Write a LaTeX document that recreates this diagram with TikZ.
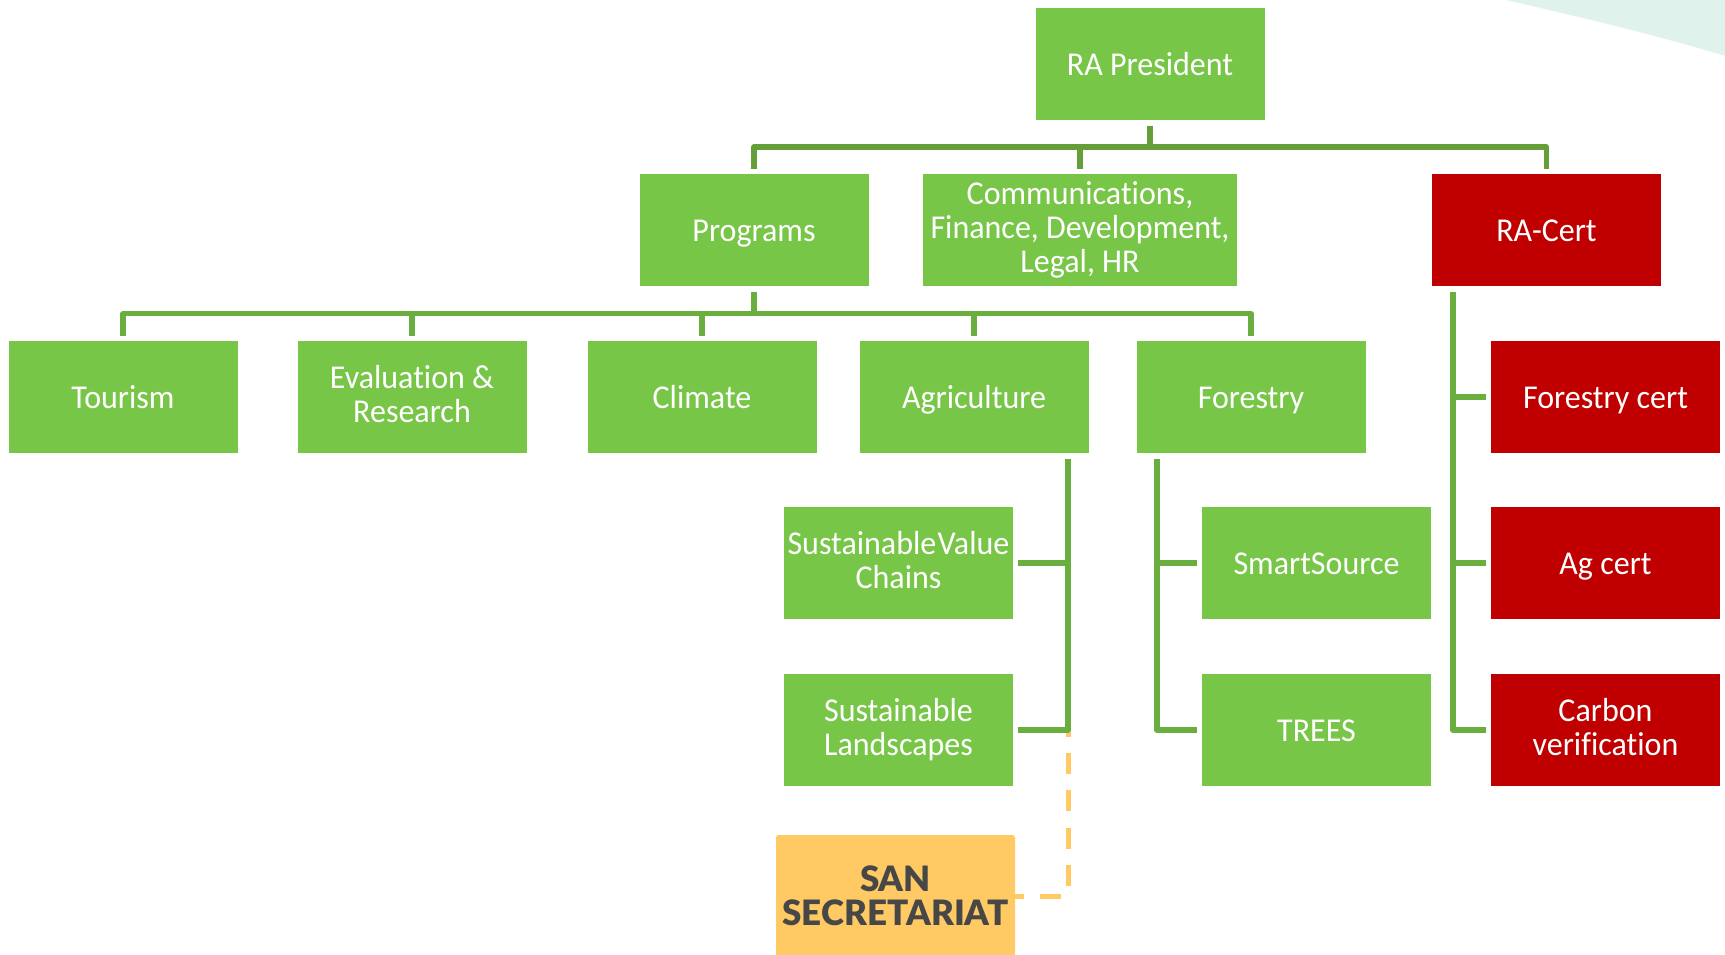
\documentclass[tikz,border=0pt]{standalone}
\usepackage{fontspec}
\setmainfont{Carlito}[Ligatures=NoCommon,WordSpace=1.0,FakeStretch=0.96]
\newfontfamily\boldface{Lato Black}
\definecolor{boxgreen}{HTML}{78C648}
\definecolor{boxred}{HTML}{C00000}
\definecolor{boxgold}{HTML}{FFCA64}
\definecolor{darkbar}{HTML}{649F3A}
\definecolor{midbar}{HTML}{6BAE40}
\definecolor{inkgrey}{HTML}{474747}
\definecolor{paleteal}{HTML}{DFF2EC}
\newcommand{\linefix}{\rule[-0.17\baselineskip]{0pt}{\baselineskip}}
\tikzset{
  x=0.75pt,y=-0.75pt,
  basebox/.style={inner sep=0pt,minimum height=112*0.75pt,align=center,text=white,
    font=\fontsize{25}{25.2}\selectfont,
    execute at begin node=\linefix,execute at end node=\linefix},
  gbox/.style={basebox,fill=boxgreen,minimum width=229*0.75pt},
  rbox/.style={basebox,fill=boxred,minimum width=229*0.75pt},
  topbar/.style={draw=darkbar,line width=4pt,shorten <=4.5pt,shorten >=3.75pt,line join=round},
  bar/.style={draw=midbar,line width=3.9pt,shorten <=4.5pt,shorten >=3.75pt,line join=round},
  sidebar/.style={draw=midbar,line width=3.9pt,shorten <=4.5pt,shorten >=3.75pt,line join=round},
}
\begin{document}
\begin{tikzpicture}
\useasboundingbox (0,0) rectangle (1725,955);
\clip (0,0) rectangle (1725,955);
\fill[paleteal] (1506,0) .. controls (1580,17) and (1660,36) .. (1725,56) -- (1725,0) -- cycle;

\node[gbox] (pres) at (1150,64) {RA President};
\node[gbox] (prog) at (754,230) {Programs};
\node[gbox,minimum width=314*0.75pt] (comm) at (1080,230) {Communications,\\Finance, Development,\\Legal, HR};
\node[rbox] (cert) at (1546.5,230) {RA-Cert};

\node[gbox] (tour) at (123,397) {Tourism};
\node[gbox] (eval) at (412,397) {Evaluation \&\\Research};
\node[gbox] (clim) at (702,397) {Climate};
\node[gbox] (agri) at (974,397) {Agriculture};
\node[gbox] (fore) at (1251,397) {Forestry};
\node[rbox] (fcert) at (1605.5,397) {Forestry cert};

\node[gbox] (svc) at (898.5,563) {Sustainable\kern-4.5pt{} Value\\Chains};
\node[gbox] (smart) at (1316.5,563) {SmartSource};
\node[rbox] (acert) at (1605.5,563) {Ag cert};

\node[gbox] (land) at (898.5,730) {Sustainable\\Landscapes};
\node[gbox] (trees) at (1316.5,730) {TREES};
\node[rbox] (carbon) at (1605.5,730) {Carbon\\verification};

\node[fill=boxgold,rounded corners=2pt,minimum width=239*0.75pt,minimum height=122*0.75pt,inner sep=0pt,align=center,
  text=inkgrey,font=\boldface\fontsize{26.2}{25.2}\selectfont] (san) at (895.5,896) {SAN\\SECRETARIAT};

\coordinate (topbus) at (0,147);
\coordinate (progbus) at (0,313.5);
\coordinate (agrix) at (1068,0);
\coordinate (forex) at (1157,0);
\coordinate (certx) at (1453,0);
\coordinate (corner) at (1068,896);

% dashed link, under the green tree
\draw[draw=boxgold,line width=3.75pt,dash pattern=on 15.75pt off 12.3pt,dash phase=9.2pt]
  (san.east |- corner) -- (corner) -- (agrix |- land.east);

% president tree
\foreach \child in {prog,comm,cert}
  \draw[topbar] (pres.south) -- (pres.south |- topbus) -| (\child.north);
% programs tree
\foreach \child in {tour,eval,clim,agri,fore}
  \draw[bar] (prog.south) -- (prog.south |- progbus) -| (\child.north);
% agriculture tree
\foreach \child in {svc,land}
  \draw[sidebar] (agrix |- agri.south) -- (agrix |- \child.east) -- (\child.east);
% forestry tree
\foreach \child in {smart,trees}
  \draw[sidebar] (forex |- fore.south) -- (forex |- \child.west) -- (\child.west);
% certification tree
\foreach \child in {fcert,acert,carbon}
  \draw[sidebar] (certx |- cert.south) -- (certx |- \child.west) -- (\child.west);
\end{tikzpicture}
\end{document}
